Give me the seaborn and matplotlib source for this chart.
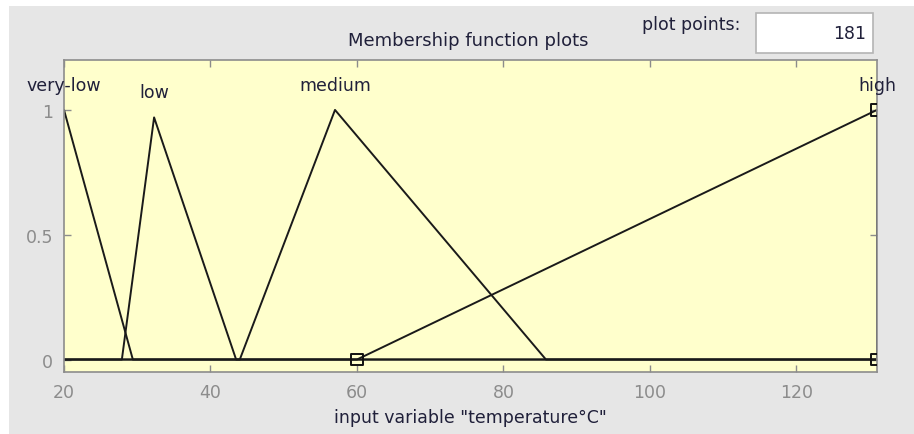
import matplotlib
matplotlib.use("Agg")
import matplotlib.pyplot as plt
import seaborn as sns
import pandas as pd
from matplotlib.patches import Rectangle

# Membership function vertices for the input "temperature°C"
mf_names = ["very-low", "low", "medium", "high"]
very_low_x = [20, 29.4, 131]
very_low_y = [1.0, 0.0, 0.0]
low_x = [20, 27.9, 32.3, 43.5, 131]
low_y = [0.0, 0.0, 0.97, 0.0, 0.0]
medium_x = [20, 44.0, 57.0, 85.8, 131]
medium_y = [0.0, 0.0, 1.0, 0.0, 0.0]
high_x = [20, 60, 131, 131]
high_y = [0.0, 0.0, 1.0, 0.0]

# Label anchors (peak of each function)
label_x = [20, 32.3, 57.0, 131]
label_peak = [1.0, 0.97, 1.0, 1.0]

# Parameter handles of the selected function
handle_x = [60, 131, 131]
handle_y = [0.0, 1.0, 0.0]

x_ticks = [20, 40, 60, 80, 100, 120]
y_ticks = [0, 0.5, 1]
y_tick_labels = ["0", "0.5", "1"]
plot_points = 181

sns.set_theme(style="white")
plt.rcParams["font.family"] = ["DejaVu Sans"]

frames = []
for name, xs, ys in zip(mf_names,
                        [very_low_x, low_x, medium_x, high_x],
                        [very_low_y, low_y, medium_y, high_y]):
    frames.append(pd.DataFrame({"x": xs, "y": ys, "mf": name,
                                "order": range(len(xs))}))
df = pd.concat(frames, ignore_index=True)

fig = plt.figure(figsize=(9.14, 4.35), dpi=100)
fig.patch.set_facecolor("white")
fig.add_artist(Rectangle((9 / 914, 0), 1 - 9 / 914, 1 - 7 / 435,
                         transform=fig.transFigure, facecolor="#e6e6e6",
                         edgecolor="none", zorder=0))

ax = fig.add_axes([64 / 914, 1 - 373 / 435, (877 - 64) / 914, (373 - 61) / 435])
ax.set_facecolor("#ffffcc")

for name in mf_names:
    sub = df[df["mf"] == name]
    sns.lineplot(data=sub, x="x", y="y", sort=False, estimator=None,
                 color="#1a1a1a", linewidth=1.4, ax=ax, legend=False)

sns.scatterplot(x=handle_x, y=handle_y, marker="s", s=70,
                facecolor="none", edgecolor="#111111", linewidth=1.4,
                ax=ax, zorder=5, clip_on=True)

text_color = "#20203a"
fs = 12.5
for name, lx, pk in zip(mf_names, label_x, label_peak):
    ax.text(lx, pk + 0.1, name, ha="center", va="center",
            fontsize=fs, color=text_color, clip_on=False)

ax.set_xlim(20, 131)
ax.set_ylim(-0.05, 1.2)
ax.set_xticks(x_ticks)
ax.set_yticks(y_ticks)
ax.set_yticklabels(y_tick_labels)
ax.tick_params(axis="both", direction="in", length=5, width=1,
               color="#8c8c8c", labelcolor="#8c8c8c", labelsize=fs,
               top=True, right=True, bottom=True, left=True, pad=8)
for sp in ax.spines.values():
    sp.set_color("#8c8c8c")
    sp.set_linewidth(1.2)

ax.set_xlabel('input variable "temperature°C"', fontsize=fs,
              color=text_color, labelpad=5)
ax.set_ylabel("")

fig.text(468 / 914, 1 - 41 / 435, "Membership function plots",
         ha="center", va="center", fontsize=13, color=text_color)
fig.text(691 / 914, 1 - 25 / 435, "plot points:", ha="center",
         va="center", fontsize=fs, color=text_color)
fig.add_artist(Rectangle((756 / 914, 1 - 54 / 435), (873 - 756) / 914,
                         40 / 435, transform=fig.transFigure,
                         facecolor="white", edgecolor="#b4b4b4",
                         linewidth=1.2))
fig.text(866 / 914, 1 - 34 / 435, str(plot_points), ha="right",
         va="center", fontsize=fs, color=text_color)

fig.savefig("out.png", dpi=100)
